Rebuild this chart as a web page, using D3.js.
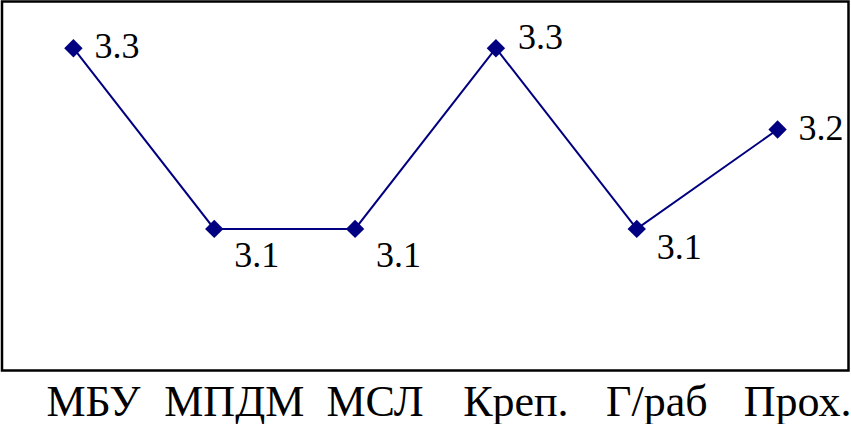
<!DOCTYPE html>
<meta charset="utf-8">
<style>
body { margin: 0; background: #fff; }
svg { display: block; background: #fff; }
.axis path, .axis line { display: none; }
</style>
<svg width="851" height="424"></svg>
<script src="https://d3js.org/d3.v7.min.js"></script>
<script>

var categories = ["МБУ", "МПДМ", "МСЛ", "Креп.", "Г/раб", "Прох."];
var values = [3.3, 3.1, 3.1, 3.3, 3.1, 3.21];

// where each value label sits next to its marker (dx, dy of baseline)
var labelOffset = [[21, 10], [20, 38], [21, 38], [22, 1], [20, 30], [21, 10]];

var serif = "'Times New Roman', Tinos, 'Liberation Serif', 'DejaVu Serif', 'Noto Serif', FreeSerif, serif";

var svg = d3.select("svg"),
    plot = {left: 2, top: 1.5, right: 848.5, bottom: 370.5};

var x = d3.scaleBand()
    .domain(categories)
    .range([plot.left + 1, plot.right - 0.5])
    .padding(0);

var y = d3.scaleLinear()
    .domain([2.945, 3.35])
    .range([plot.bottom - 1.5, plot.top + 1.5]);

var fmt = d3.format(".1f");
var navy = "#000080";

var data = categories.map(function(c, i) { return {cat: c, v: values[i], off: labelOffset[i]}; });

function cx(d) { return x(d.cat) + x.bandwidth() / 2; }

// frame
svg.append("rect")
    .attr("x", plot.left)
    .attr("y", plot.top)
    .attr("width", plot.right - plot.left)
    .attr("height", plot.bottom - plot.top)
    .attr("fill", "none")
    .attr("stroke", "#000")
    .attr("stroke-width", 2.5);

// line
svg.append("path")
    .datum(data)
    .attr("fill", "none")
    .attr("stroke", navy)
    .attr("stroke-width", 2)
    .attr("d", d3.line().x(cx).y(function(d) { return y(d.v); }));

// diamond markers
svg.append("g").selectAll("path")
    .data(data)
  .enter().append("path")
    .attr("transform", function(d) { return "translate(" + cx(d) + "," + y(d.v) + ") rotate(45)"; })
    .attr("d", "M-6.5,-6.5H6.5V6.5H-6.5Z")
    .attr("fill", navy);

// value labels
svg.append("g").selectAll("text")
    .data(data)
  .enter().append("text")
    .style("font-family", serif)
    .style("font-size", "36px")
    .attr("fill", "#000")
    .attr("x", function(d) { return cx(d) + d.off[0]; })
    .attr("y", function(d) { return y(d.v) + d.off[1]; })
    .text(function(d) { return fmt(d.v); });

// category axis
svg.append("g")
    .attr("class", "axis")
    .attr("transform", "translate(0," + plot.bottom + ")")
    .call(d3.axisBottom(x).tickSize(0).tickPadding(0))
  .selectAll("text")
    .style("font-family", serif)
    .style("font-size", "44px")
    .attr("fill", "#000")
    .attr("dy", 0)
    .attr("y", 45)
    .attr("dx", 20);

</script>
